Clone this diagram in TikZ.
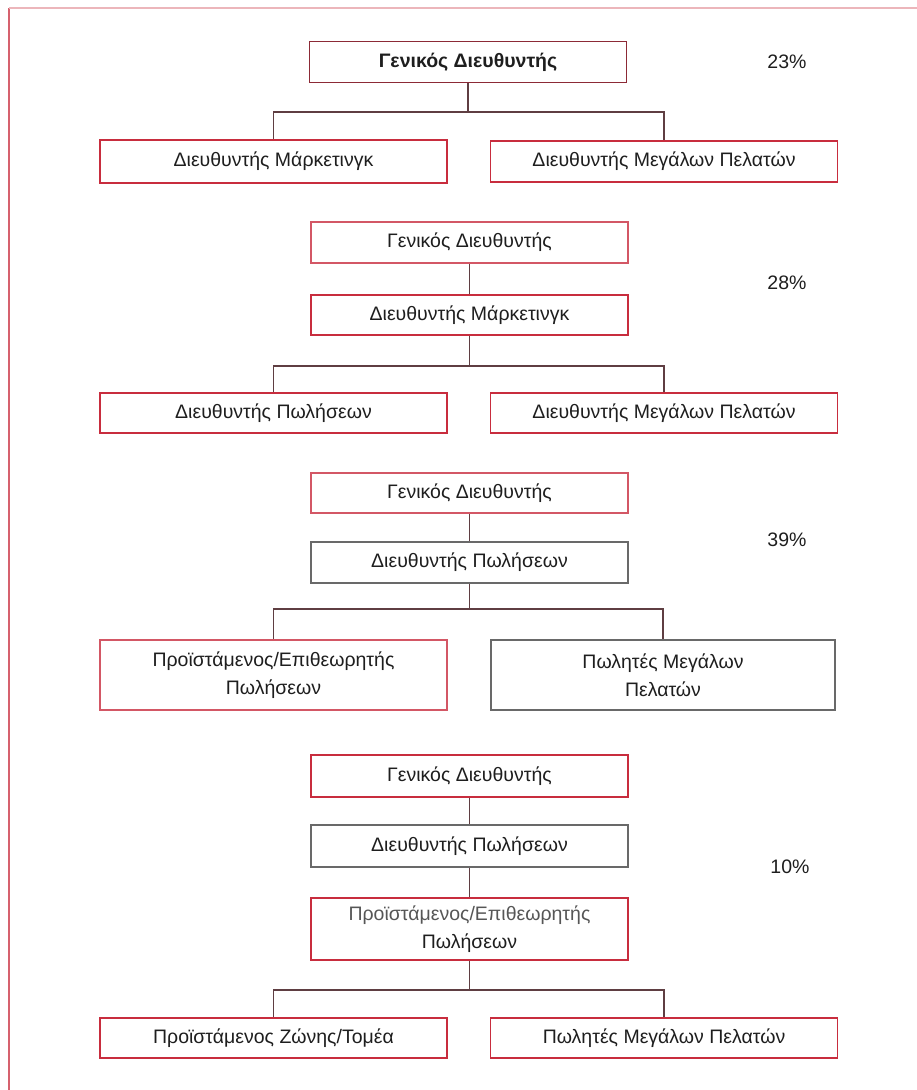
\documentclass[tikz,border=0pt]{standalone}
\usepackage{fontspec}
\setmainfont{Liberation Sans}
\usetikzlibrary{positioning}
\definecolor{boxred}{RGB}{200,45,62}
\definecolor{darkred}{RGB}{140,42,54}
\definecolor{boxgrey}{RGB}{105,105,105}
\definecolor{linegrey}{RGB}{95,62,66}
\definecolor{textgrey}{RGB}{30,30,30}

\begin{document}
\begin{tikzpicture}[x=1pt,y=-1pt,
  box/.style={draw=boxred,line width=1.7pt,fill=white,inner sep=0pt,minimum height=41pt,
    text=textgrey,align=center,font=\fontsize{19.5}{28}\selectfont},
  greybox/.style={box,draw=boxgrey},
  wide/.style={minimum width=347pt},
  mid/.style={minimum width=317pt},
  link/.style={draw=linegrey,line width=1.4pt},
  pct/.style={text=textgrey,font=\fontsize{19.5}{24}\selectfont}]

\useasboundingbox (0,0) rectangle (917,1090);
\draw[boxred!75,line width=1.4pt] (9,1090) -- (9,8);
\draw[boxred!35,line width=1.4pt] (9,8) -- (917,8);

% first chart
\node[box,mid,draw=darkred,font=\fontsize{19.5}{28}\selectfont\bfseries] (g1) at (468,62) {Γενικός Διευθυντής};
\node[box,wide,minimum height=43pt] (m1) at (273.5,161.5) {Διευθυντής Μάρκετινγκ};
\node[box,wide] (k1) at (664,161.5) {Διευθυντής Μεγάλων Πελατών};
\node[pct] (p1) at (787,62) {23\%};
\coordinate (j1) at (468,112);
\draw[link] (g1.south) -- (j1);
\draw[link] (m1.north) |- (j1) -| (k1.north);

% second chart
\node[box,mid,draw=boxred!80] (g2) at (469.5,242.5) {Γενικός Διευθυντής};
\node[box,mid,minimum height=40pt] (m2) at (469.5,315) {Διευθυντής Μάρκετινγκ};
\node[box,wide,minimum height=40pt] (s2) at (273.5,413) {Διευθυντής Πωλήσεων};
\node[box,wide,minimum height=40pt] (k2) at (664,413) {Διευθυντής Μεγάλων Πελατών};
\node[pct] (p2) at (787,283) {28\%};
\coordinate (j2) at (469.5,366);
\draw[link] (g2.south) -- (m2.north);
\draw[link] (m2.south) -- (j2);
\draw[link] (s2.north) |- (j2) -| (k2.north);

% third chart
\node[box,mid,draw=boxred!80,minimum height=40pt] (g3) at (469.5,493) {Γενικός Διευθυντής};
\node[greybox,mid] (s3) at (469.5,562.5) {Διευθυντής Πωλήσεων};
\node[box,wide,draw=boxred!80,minimum height=70pt] (e3) at (273.5,675) {Προϊστάμενος/Επιθεωρητής\\Πωλήσεων};
\node[greybox,minimum width=344pt,minimum height=70pt] (k3) at (663,675) {Πωλητές Μεγάλων\\Πελατών};
\node[pct] (p3) at (787,540) {39\%};
\coordinate (j3) at (469.5,609);
\draw[link] (g3.south) -- (s3.north);
\draw[link] (s3.south) -- (j3);
\draw[link] (e3.north) |- (j3) -| (k3.north);

% fourth chart
\node[box,mid,minimum height=42pt] (g4) at (469.5,776) {Γενικός Διευθυντής};
\node[greybox,mid,minimum height=42pt] (s4) at (469.5,846) {Διευθυντής Πωλήσεων};
\node[box,mid,minimum height=62pt] (e4) at (469.5,929) {{\color{textgrey!75}Προϊστάμενος/Επιθεωρητής}\\Πωλήσεων};
\node[box,wide,minimum height=40pt] (z4) at (273.5,1038) {Προϊστάμενος Ζώνης/Τομέα};
\node[box,wide,minimum height=40pt] (k4) at (664,1038) {Πωλητές Μεγάλων Πελατών};
\node[pct] (p4) at (790,867) {10\%};
\coordinate (j4) at (469.5,990);
\draw[link] (g4.south) -- (s4.north);
\draw[link] (s4.south) -- (e4.north);
\draw[link] (e4.south) -- (j4);
\draw[link] (z4.north) |- (j4) -| (k4.north);

\end{tikzpicture}
\end{document}
